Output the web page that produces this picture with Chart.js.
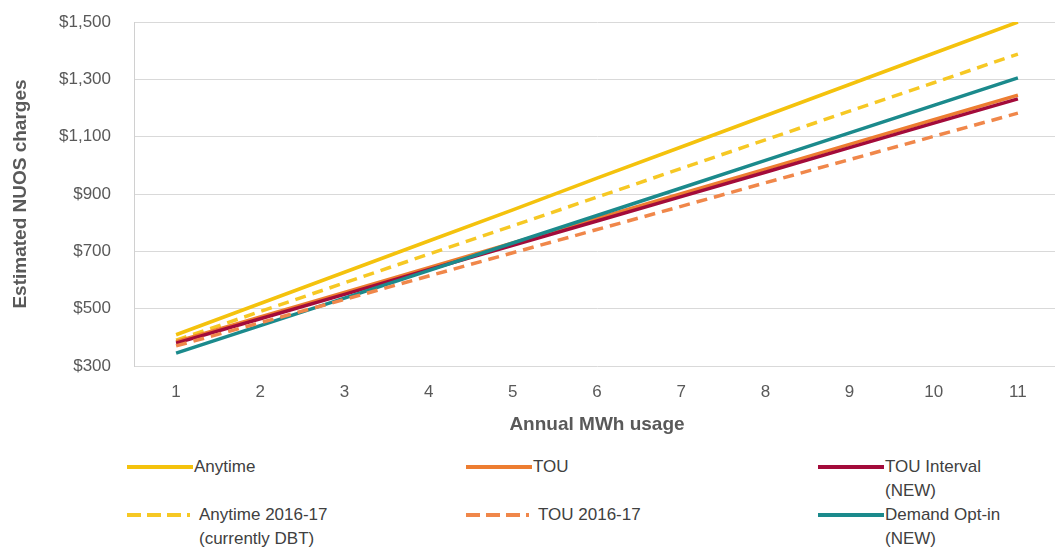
<!DOCTYPE html>
<html>
<head>
<meta charset="utf-8">
<script src="https://cdn.jsdelivr.net/npm/chart.js@4"></script>
<style>
  html, body { margin: 0; padding: 0; background: #fff; overflow: hidden; }
  #wrap { position: relative; width: 1062px; height: 556px; }
  #chartBox { position: absolute; left: 0; top: 0; width: 1062px; height: 445px; }
  .lg-item { position: absolute; }
  .lg-item canvas { position: absolute; left: 0; top: 0; }
  .lg-text { position: absolute; top: 0; font-family: "Liberation Sans", Arial, sans-serif; font-size: 17px; line-height: 24px; color: #404040; white-space: nowrap; }
</style>
</head>
<body>
<div id="wrap">
  <div id="chartBox"><canvas id="myChart"></canvas></div>
  <div id="legend"></div>
</div>
<script>
const usage = ['1', '2', '3', '4', '5', '6', '7', '8', '9', '10', '11'];
const anytime      = [409, 518, 627, 736, 845, 955, 1064, 1173, 1282, 1391, 1500];
const anytime1617  = [390, 490, 590, 690, 789, 889, 989, 1089, 1189, 1288, 1388];
const tou          = [385, 471, 557, 643, 729, 815, 901, 987, 1073, 1159, 1245];
const touInterval  = [380, 465, 550, 636, 721, 806, 891, 976, 1062, 1147, 1232];
const demandOptIn  = [345, 441, 537, 633, 729, 825, 921, 1017, 1113, 1209, 1305];
const tou1617      = [370, 451, 532, 614, 695, 776, 857, 939, 1020, 1101, 1182];
const yTicks = [300, 500, 700, 900, 1100, 1300, 1500];

const GOLD = '#F4C20D';
const ORANGE = '#ED7D31';
const MAROON = '#A30B3A';
const TEAL = '#1B8A8C';

// legend order (row by row, 3 columns)
const series = [
  { label: ['Anytime'], data: anytime, color: GOLD, dash: [], order: 6 },
  { label: ['TOU'], data: tou, color: ORANGE, dash: [], order: 4 },
  { label: ['TOU Interval', '(NEW)'], data: touInterval, color: MAROON, dash: [], order: 3 },
  { label: ['Anytime 2016-17', '(currently DBT)'], data: anytime1617, color: '#F6C824', dash: [11, 7], order: 5 },
  { label: ['TOU 2016-17'], data: tou1617, color: '#F0874A', dash: [11, 7], order: 1 },
  { label: ['Demand Opt-in', '(NEW)'], data: demandOptIn, color: TEAL, dash: [], order: 2 }
];

function money(v) {
  return '$' + v.toLocaleString('en-US');
}

function lineChart() {
  const ctx = document.getElementById('myChart');
  new Chart(ctx, {
    type: 'line',
    data: {
      labels: usage,
      datasets: series.map(s => ({
        label: s.label.join(' '),
        data: s.data,
        borderColor: s.color,
        backgroundColor: s.color,
        borderDash: s.dash,
        borderWidth: 3.5,
        pointRadius: 0,
        tension: 0,
        order: s.order
      }))
    },
    options: {
      responsive: true,
      maintainAspectRatio: false,
      animation: false,
      layout: { padding: { top: 22, right: 2, bottom: 0, left: 0 } },
      plugins: {
        legend: { display: false },
        tooltip: { enabled: false }
      },
      scales: {
        x: {
          offset: true,
          grid: { display: false, drawTicks: false },
          border: { display: false },
          ticks: {
            padding: 16,
            color: '#595959',
            font: { family: '"Liberation Sans", Arial, sans-serif', size: 17 }
          },
          title: {
            display: true,
            text: 'Annual MWh usage',
            color: '#595959',
            padding: { top: 0, bottom: 9 },
            font: { family: '"Liberation Sans", Arial, sans-serif', size: 19, weight: 'bold' }
          },
          afterFit: function (scale) { scale.height = 79; }
        },
        y: {
          min: 300,
          max: 1500,
          afterBuildTicks: function (scale) {
            scale.ticks = yTicks.map(v => ({ value: v }));
          },
          grid: { color: '#D9D9D9', lineWidth: 1, drawTicks: false },
          border: { display: true, color: '#D0D0D0' },
          ticks: {
            padding: 23,
            color: '#595959',
            font: { family: '"Liberation Sans", Arial, sans-serif', size: 17 },
            callback: function (value) { return money(value); }
          },
          title: {
            display: true,
            text: 'Estimated NUOS charges',
            color: '#595959',
            padding: { top: 9, bottom: 0 },
            font: { family: '"Liberation Sans", Arial, sans-serif', size: 19, weight: 'bold' }
          },
          afterFit: function (scale) {
            scale.width = 134;
            scale.paddingTop = 0;
            scale.paddingBottom = 0;
          }
        }
      }
    }
  });
}

function buildLegend() {
  const box = document.getElementById('legend');
  const cols = [127, 466, 818];
  const rows = [455, 503];
  series.forEach((s, i) => {
    const item = document.createElement('div');
    item.className = 'lg-item';
    item.style.left = cols[i % 3] + 'px';
    item.style.top = rows[Math.floor(i / 3)] + 'px';

    const c = document.createElement('canvas');
    c.width = 66;
    c.height = 24;
    const g = c.getContext('2d');
    g.strokeStyle = s.color;
    g.lineWidth = 4;
    g.setLineDash(s.dash.length ? [14, 6] : []);
    g.beginPath();
    g.moveTo(0, 12);
    g.lineTo(s.dash.length ? 63 : 66, 12);
    g.stroke();
    item.appendChild(c);

    const t = document.createElement('div');
    t.className = 'lg-text';
    t.style.left = (s.dash.length ? 72 : 67) + 'px';
    t.innerHTML = s.label.join('<br>');
    item.appendChild(t);

    box.appendChild(item);
  });
}

window.addEventListener('DOMContentLoaded', function () {
  lineChart();
  buildLegend();
});
</script>
</body>
</html>
